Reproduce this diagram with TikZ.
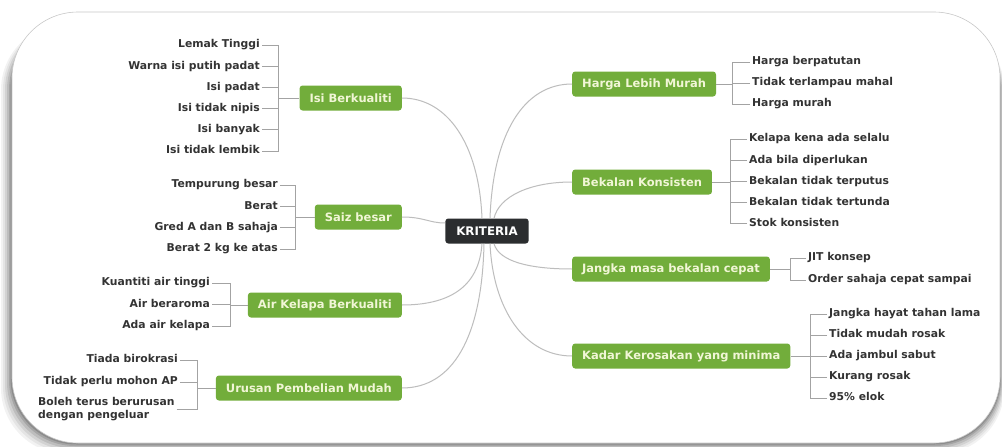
\documentclass[tikz,border=0pt]{standalone}
\usepackage{fontspec}
\setmainfont{DejaVu Sans}

\definecolor{mapgreen}{HTML}{72AD3B}
\definecolor{mapcream}{HTML}{F1F6D6}
\definecolor{mapdark}{HTML}{2B2D2F}
\definecolor{leafink}{HTML}{333333}
\definecolor{curvegray}{HTML}{BDBDBD}
\definecolor{bracegray}{HTML}{A3A3A3}

\begin{document}
\begin{tikzpicture}[x=1pt,y=-1pt,
  topic/.style={rounded corners=3pt,fill=mapgreen,text=mapcream,font=\bfseries\fontsize{11.5}{13}\selectfont,
    minimum height=25pt,inner xsep=10pt,inner ysep=0pt},
  root/.style={rounded corners=3pt,fill=mapdark,text=white,font=\bfseries\fontsize{11.8}{13}\selectfont,
    minimum height=25pt,inner xsep=11pt,inner ysep=0pt},
  leaf/.style={text=leafink,font=\bfseries\fontsize{10.8}{12.4}\selectfont,inner xsep=2pt,inner ysep=0pt,
    text height=8pt,text depth=2.4pt},
  leafL/.style={leaf,anchor=east},
  leafR/.style={leaf,anchor=west},
  br/.style={draw=bracegray,line width=0.8pt},
  link/.style={draw=curvegray,line width=1pt}]
\useasboundingbox (0,0) rectangle (1002,447);
% ================ bingkai dengan bayang ================
\foreach \o/\op in {11/0.05,9/0.06,7/0.08,5/0.10,3/0.13,1.5/0.15}{
  \fill[black,opacity=\op,rounded corners=66pt] (12-\o,24) rectangle (1000+0.4*\o,443+\o);
}
\fill[white,draw=black!22,line width=0.6pt,rounded corners=66pt] (12,12) rectangle (1000,443);
% ================ akar ================
\node[root] (kr) at (487,231) {KRITERIA};
% ================ kiri ================
\node[topic,anchor=east] (isi) at (402,98) {Isi Berkualiti};
\node[topic,anchor=east] (saiz) at (402,217) {Saiz besar};
\node[topic,anchor=east] (air) at (402,305) {Air Kelapa Berkualiti};
\node[topic,anchor=east] (urus) at (402,388) {Urusan Pembelian Mudah};
% ================ kanan ================
\node[topic,anchor=west] (harga) at (572,84) {Harga Lebih Murah};
\node[topic,anchor=west] (bekal) at (572,182) {Bekalan Konsisten};
\node[topic,anchor=west] (jangka) at (572,269) {Jangka masa bekalan cepat};
\node[topic,anchor=west] (kadar) at (572,356) {Kadar Kerosakan yang minima};
% lengkung dari akar
\draw[link] (isi.east) .. controls +(45,0) and +(-3,-75) .. ([xshift=-5pt]kr.north);
\draw[link] (saiz.east) .. controls +(22,0) and +(-16,0) .. ([yshift=8pt]kr.west);
\draw[link] (air.east) .. controls +(45,0) and +(-3,45) .. ([xshift=-5pt]kr.south);
\draw[link] (urus.east) .. controls +(50,0) and +(-2,95) .. ([xshift=-3pt]kr.south);
\draw[link] (harga.west) .. controls +(-48,0) and +(3,-85) .. ([xshift=3pt]kr.north);
\draw[link] (bekal.west) .. controls +(-42,0) and +(5,-22) .. ([xshift=7pt]kr.north);
\draw[link] (jangka.west) .. controls +(-42,0) and +(5,18) .. ([xshift=7pt]kr.south);
\draw[link] (kadar.west) .. controls +(-48,0) and +(3,65) .. ([xshift=3pt]kr.south);
% ================ daun kiri ================
\coordinate (isi-j) at (278,98);
\foreach \t [count=\i] in {Lemak Tinggi,Warna isi putih padat,Isi padat,Isi tidak nipis,Isi banyak,Isi tidak lembik}{
  \node[leafL] (isi-\i) at (262,{45+21.2*(\i-1)}) {\t};
  \draw[br] (isi-\i.east) -| (isi-j);
}
\draw[br] (isi-j) -- (isi.west);
\coordinate (saiz-j) at (295,217);
\foreach \t [count=\i] in {Tempurung besar,Berat,Gred A dan B sahaja,Berat 2 kg ke atas}{
  \node[leafL] (saiz-\i) at (280,{185+21.3*(\i-1)}) {\t};
  \draw[br] (saiz-\i.east) -| (saiz-j);
}
\draw[br] (saiz-j) -- (saiz.west);
\coordinate (air-j) at (230,305);
\foreach \t [count=\i] in {Kuantiti air tinggi,Air beraroma,Ada air kelapa}{
  \node[leafL] (air-\i) at (212,{283+21.5*(\i-1)}) {\t};
  \draw[br] (air-\i.east) -| (air-j);
}
\draw[br] (air-j) -- (air.west);
\coordinate (urus-j) at (197,388);
\node[leafL] (urus-1) at (180,360) {Tiada birokrasi};
\node[leafL] (urus-2) at (180,382) {Tidak perlu mohon AP};
\node[text=leafink,font=\bfseries\fontsize{10.8}{12.6}\selectfont,inner xsep=2pt,inner ysep=0pt,
  align=left,anchor=west] (urus-3) at (36,409) {Boleh terus berurusan\\dengan pengeluar};
\foreach \i in {1,2,3}{\draw[br] (urus-\i.east) -| (urus-j);}
\draw[br] (urus-j) -- (urus.west);
% ================ daun kanan ================
\coordinate (harga-j) at (732,84);
\foreach \t [count=\i] in {Harga berpatutan,Tidak terlampau mahal,Harga murah}{
  \node[leafR] (harga-\i) at (750,{62+21*(\i-1)}) {\t};
  \draw[br] (harga-\i.west) -| (harga-j);
}
\draw[br] (harga-j) -- (harga.east);
\coordinate (bekal-j) at (730,182);
\foreach \t [count=\i] in {Kelapa kena ada selalu,Ada bila diperlukan,Bekalan tidak terputus,Bekalan tidak tertunda,Stok konsisten}{
  \node[leafR] (bekal-\i) at (747,{139+21.2*(\i-1)}) {\t};
  \draw[br] (bekal-\i.west) -| (bekal-j);
}
\draw[br] (bekal-j) -- (bekal.east);
\coordinate (jangka-j) at (790,269);
\foreach \t [count=\i] in {JIT konsep,Order sahaja cepat sampai}{
  \node[leafR] (jangka-\i) at (806,{258+22*(\i-1)}) {\t};
  \draw[br] (jangka-\i.west) -| (jangka-j);
}
\draw[br] (jangka-j) -- (jangka.east);
\coordinate (kadar-j) at (810,356);
\foreach \t [count=\i] in {Jangka hayat tahan lama,Tidak mudah rosak,Ada jambul sabut,Kurang rosak,95\% elok}{
  \node[leafR] (kadar-\i) at (827,{314+21*(\i-1)}) {\t};
  \draw[br] (kadar-\i.west) -| (kadar-j);
}
\draw[br] (kadar-j) -- (kadar.east);
\end{tikzpicture}
\end{document}
